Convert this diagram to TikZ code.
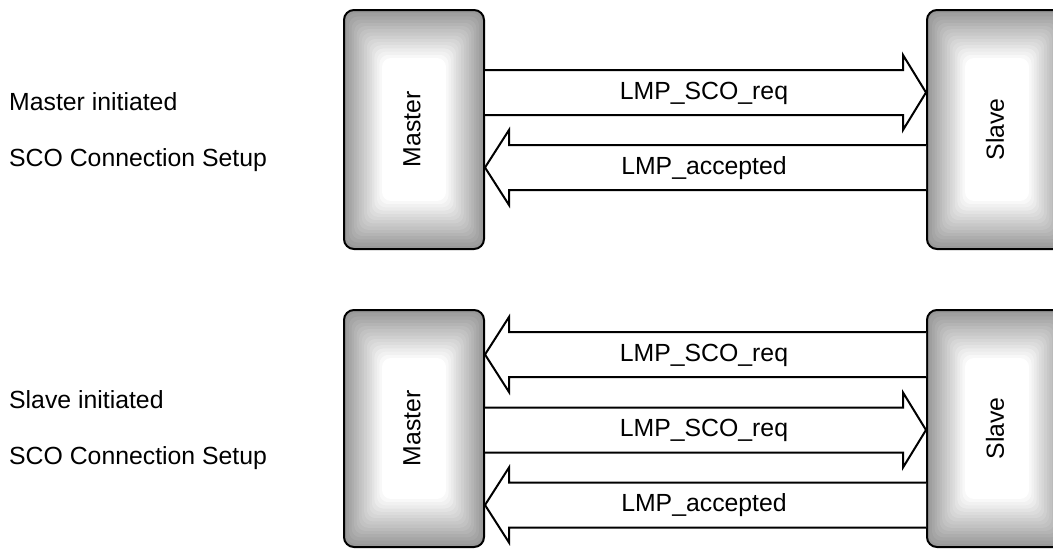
\documentclass[tikz,border=0pt]{standalone}
\usepackage{fontspec}
\setmainfont{Liberation Sans}
\usepackage{graphicx}
\usetikzlibrary{calc}

\definecolor{rimgray}{gray}{0.6}

\tikzset{
  x=1pt, y=-1pt,
  every node/.style={font=\fontsize{24.8}{29}\selectfont},
  % rounded unit box with a stepped grey rim fading to a white core
  stationbox/.style={draw=black, line width=2pt, rounded corners=10pt,
    minimum width=140pt, inner sep=0pt,
    path picture={
      \foreach \i in {0,...,15}{
        \pgfmathtruncatemacro\lev{\i*100/15}
        \fill[white!\lev!rimgray, rounded corners=9pt]
          ([xshift=\i*2.53pt, yshift=-\i*3.2pt]path picture bounding box.north west)
          rectangle
          ([xshift=-\i*2.53pt, yshift=\i*3.2pt]path picture bounding box.south east);
      }
    }},
  blockarrow/.style={draw=black, fill=white, line width=2pt, line join=miter},
  msg/.style={inner sep=0pt},
  caption/.style={anchor=west, inner sep=0pt},
}

% block arrow pointing right: from node #1 to node #2, centred on y=#3
\newcommand\msgright[3]{%
  \draw[blockarrow] (#1.east |- 0,#3-22.5)
    -- ($(#2.west |- 0,#3-22.5)+(-23,0)$)
    -- ($(#2.west |- 0,#3-37.5)+(-23,0)$)
    -- (#2.west |- 0,#3)
    -- ($(#2.west |- 0,#3+37.5)+(-23,0)$)
    -- ($(#2.west |- 0,#3+22.5)+(-23,0)$)
    -- (#1.east |- 0,#3+22.5);}
% block arrow pointing left: from node #1 back to node #2, centred on y=#3
\newcommand\msgleft[3]{%
  \draw[blockarrow] (#1.west |- 0,#3-22.5)
    -- ($(#2.east |- 0,#3-22.5)+(24,0)$)
    -- ($(#2.east |- 0,#3-37.5)+(24,0)$)
    -- (#2.east |- 0,#3)
    -- ($(#2.east |- 0,#3+37.5)+(24,0)$)
    -- ($(#2.east |- 0,#3+22.5)+(24,0)$)
    -- (#1.west |- 0,#3+22.5);}

\begin{document}
\begin{tikzpicture}
\useasboundingbox (0,0) rectangle (1053,549);

% ---- master initiated ----
\node[caption] (capA1) at (9,102) {Master initiated};
\node[caption] (capA2) at (9,160) {SCO Connection Setup};

\node[stationbox, minimum height=239pt] (mA) at (414,129.5) {};
\node[stationbox, minimum height=239pt] (sA) at (997,129.5) {};
\node (mAlbl) at (412,129.5) {\rotatebox{90}{Master}};
\node (sAlbl) at (995,129.5) {\rotatebox{90}{Slave}};

\msgright{mA}{sA}{92.5}
\msgleft{sA}{mA}{167.5}
\node[msg] (reqA) at (704,93) {LMP\_SCO\_req};
\node[msg] (accA) at (704,168) {LMP\_accepted};

% ---- slave initiated ----
\node[caption] (capB1) at (9,400) {Slave initiated};
\node[caption] (capB2) at (9,458) {SCO Connection Setup};

\node[stationbox, minimum height=237pt] (mB) at (414,428.5) {};
\node[stationbox, minimum height=237pt] (sB) at (997,428.5) {};
\node (mBlbl) at (412,428.5) {\rotatebox{90}{Master}};
\node (sBlbl) at (995,428.5) {\rotatebox{90}{Slave}};

\msgleft{sB}{mB}{354.5}
\msgright{mB}{sB}{430}
\msgleft{sB}{mB}{505}
\node[msg] (reqB1) at (704,355) {LMP\_SCO\_req};
\node[msg] (reqB2) at (704,430) {LMP\_SCO\_req};
\node[msg] (accB) at (704,505) {LMP\_accepted};
\end{tikzpicture}
\end{document}
